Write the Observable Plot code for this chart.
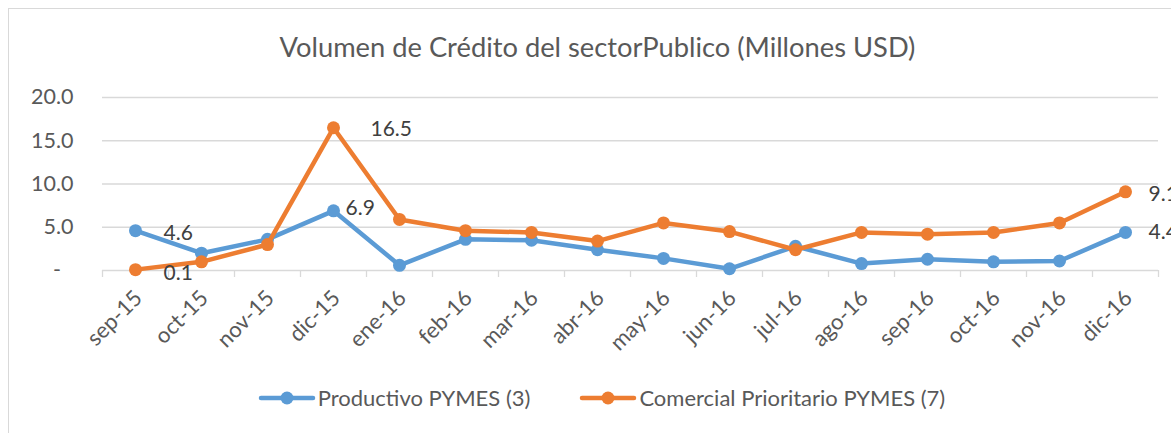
<!DOCTYPE html>
<html>
<head>
<meta charset="utf-8">
<script src="https://cdn.jsdelivr.net/npm/d3@7"></script>
<script src="https://cdn.jsdelivr.net/npm/@observablehq/plot@0.6"></script>
<style>
  html, body { margin: 0; padding: 0; background: #fff; }
  body { font-family: Lato, "Open Sans", sans-serif; }
  #wrap { position: relative; width: 1171px; height: 433px; overflow: hidden; background: #fff; }
  #frame { position: absolute; left: 8px; top: 8px; width: 1220px; height: 500px; border: 1.5px solid #d9d9d9; box-sizing: border-box; }
  #title { position: absolute; left: 0; top: 31px; width: 1195px; text-align: center; font-size: 27.3px; color: #595959; line-height: 1.2; white-space: nowrap; }
  #chart { position: absolute; left: 0; top: 0; }
  #legend { position: absolute; left: 0; top: 385px; width: 1203px; display: flex; justify-content: center; gap: 49px; font-size: 22px; color: #595959; line-height: 26px; white-space: nowrap; }
  .item { display: flex; align-items: center; }
  .item svg { display: block; margin-right: 2px; }
</style>
</head>
<body>
<div id="wrap">
  <div id="frame"></div>
  <div id="title">Volumen de Crédito del sectorPublico (Millones USD)</div>
  <div id="chart"></div>
  <div id="legend"></div>
</div>
<script>
// ---- data ----
const months = ["sep-15","oct-15","nov-15","dic-15","ene-16","feb-16","mar-16","abr-16","may-16","jun-16","jul-16","ago-16","sep-16","oct-16","nov-16","dic-16"];
const productivo = [4.6, 2.0, 3.6, 6.9, 0.6, 3.6, 3.5, 2.4, 1.4, 0.2, 2.8, 0.8, 1.3, 1.0, 1.1, 4.4];
const comercial  = [0.1, 1.0, 3.0, 16.5, 5.9, 4.6, 4.4, 3.4, 5.5, 4.5, 2.4, 4.4, 4.2, 4.4, 5.5, 9.1];
const seriesNames = ["Productivo PYMES (3)", "Comercial Prioritario PYMES (7)"];
const seriesColors = ["#5B9BD5", "#ED7D31"];
const yTicks = [0, 5, 10, 15, 20];
// labelled points: [series index, month index]
const labelled = [[0, 0], [1, 0], [0, 3], [1, 3], [1, 15], [0, 15]];

// ---- tables ----
const prodData = months.map((m, i) => ({i, month: m, value: productivo[i], series: seriesNames[0]}));
const comData  = months.map((m, i) => ({i, month: m, value: comercial[i], series: seriesNames[1]}));
const tables = [prodData, comData];
const labelRows = labelled.map(([s, i]) => tables[s][i]);
const boundaries = d3.range(months.length + 1).map(k => k - 0.5);
const centers = d3.range(months.length);

// per-label offsets (in pixels), same order as labelled
const labelDx = [28, 28, 12, 37, 23, 23];
const labelDy = [3, 4, -3, 1, 2, 0];

const grey = "#d9d9d9";
const textCol = "#595959";
const font = 'Lato, "Open Sans", sans-serif';

const labelMarks = labelRows.map((d, k) =>
  Plot.text([d], {x: "i", y: "value", text: r => r.value.toFixed(1), textAnchor: "start",
    dx: labelDx[k], dy: labelDy[k], fill: "#404040", fontSize: 21})
);

const chart = Plot.plot({
  width: 1171,
  height: 433,
  marginTop: 97,
  marginBottom: 163,
  marginLeft: 102,
  marginRight: 13,
  style: {fontFamily: font, background: "transparent", overflow: "visible"},
  x: {type: "linear", domain: [-0.5, months.length - 0.5], label: null},
  y: {domain: [0, 20], label: null},
  color: {domain: seriesNames, range: seriesColors},
  marks: [
    Plot.ruleY(yTicks.filter(v => v > 0), {stroke: grey, strokeWidth: 1.3}),
    Plot.ruleY([0], {stroke: grey, strokeWidth: 1.3}),
    Plot.axisX(boundaries, {tickSize: 7, tickFormat: () => "", stroke: grey, strokeWidth: 1.3, strokeOpacity: 1, label: null}),
    Plot.axisX(centers, {tickSize: 0, tickPadding: 24, tickRotate: -45, tickFormat: i => months[i], fontSize: 22, fill: textCol, dx: 3, label: null}),
    Plot.axisY(yTicks, {tickSize: 0, tickPadding: 29, tickFormat: v => v === 0 ? "-\u2007" : v.toFixed(1), fontSize: 21.5, fill: textCol, label: null}),
    Plot.line(prodData, {x: "i", y: "value", stroke: "series", strokeWidth: 4.5, strokeLinejoin: "round", strokeLinecap: "round"}),
    Plot.dot(prodData, {x: "i", y: "value", fill: "series", r: 6.5}),
    Plot.line(comData, {x: "i", y: "value", stroke: "series", strokeWidth: 4.5, strokeLinejoin: "round", strokeLinecap: "round"}),
    Plot.dot(comData, {x: "i", y: "value", fill: "series", r: 6.5}),
    ...labelMarks
  ]
});
document.getElementById("chart").appendChild(chart);

// ---- legend ----
const legend = document.getElementById("legend");
seriesNames.forEach((name, k) => {
  const item = document.createElement("div");
  item.className = "item";
  item.innerHTML = `<svg width="58" height="16"><line x1="3" y1="8" x2="55" y2="8" stroke="${seriesColors[k]}" stroke-width="4.5" stroke-linecap="round"/><circle cx="29" cy="8" r="6.5" fill="${seriesColors[k]}"/></svg><span>${name}</span>`;
  legend.appendChild(item);
});
</script>
</body>
</html>
